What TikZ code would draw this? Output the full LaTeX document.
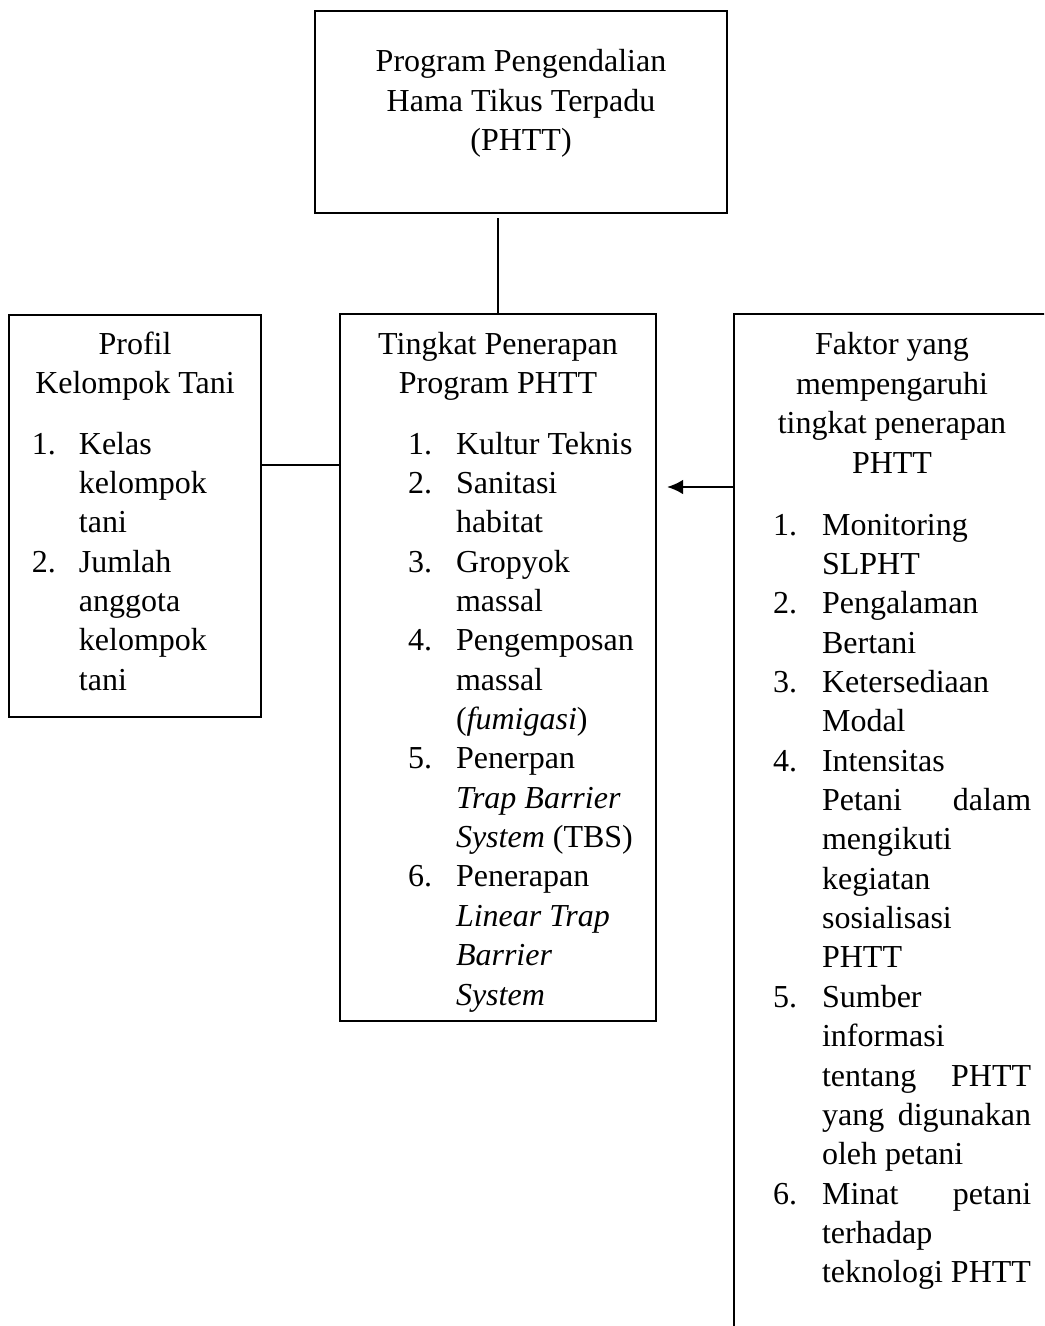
\documentclass[tikz,border=0pt]{standalone}
\usepackage{fontspec}
\setmainfont{Liberation Serif}
\usepackage{tikz}
\usetikzlibrary{arrows.meta}

\begin{document}
\begin{tikzpicture}[x=0.375pt,y=-0.375pt,
  every node/.style={inner sep=0pt,outer sep=0pt,font=\fontsize{12}{14.76}\selectfont},
  box/.style={draw,line width=0.8pt,anchor=north west},
  link/.style={line width=0.4pt}]

% Page frame
\path[use as bounding box] (0,0) rectangle (1044,1326);
\clip (0,0) rectangle (1044,1326);

% Boxes
\node[box,minimum width=412*0.375pt,minimum height=202*0.375pt] (top) at (315,11) {};
\node[box,minimum width=252*0.375pt,minimum height=402*0.375pt] (left) at (9,315) {};
\node[box,minimum width=316*0.375pt,minimum height=707*0.375pt] (mid) at (340,314) {};
\node[box,minimum width=316*0.375pt,minimum height=1100*0.375pt] (right) at (734,314) {};

% Titles
\node[anchor=base] (toptext) at (521,72) {\begin{tabular}[t]{@{}c@{}}Program Pengendalian\\Hama Tikus Terpadu\\(PHTT)\end{tabular}};
\node[anchor=base] (lefttitle) at (135,354) {\begin{tabular}[t]{@{}c@{}}Profil\\Kelompok Tani\end{tabular}};
\node[anchor=base] (midtitle) at (498,354) {\begin{tabular}[t]{@{}c@{}}Tingkat Penerapan\\Program PHTT\end{tabular}};
\node[anchor=base] (righttitle) at (892,355) {\begin{tabular}[t]{@{}c@{}}Faktor yang\\mempengaruhi\\tingkat penerapan\\PHTT\end{tabular}};

% Lists
\node[anchor=base west] (leftlist) at (32,454) {\begin{tabular}[t]{@{}p{17.6pt}@{}p{60pt}@{}}
1. & Kelas\\
   & kelompok\\
   & tani\\
2. & Jumlah\\
   & anggota\\
   & kelompok\\
   & tani
\end{tabular}};

\node[anchor=base west] (midlist) at (408,454) {\begin{tabular}[t]{@{}p{18pt}@{}p{70pt}@{}}
1. & Kultur Teknis\\
2. & Sanitasi\\
   & habitat\\
3. & Gropyok\\
   & massal\\
4. & Pengemposan\\
   & massal\\
   & (\textit{fumigasi})\\
5. & Penerpan\\
   & \textit{Trap Barrier}\\
   & \textit{System} (TBS)\\
6. & Penerapan\\
   & \textit{Linear Trap}\\
   & \textit{Barrier}\\
   & \textit{System}
\end{tabular}};

\node[anchor=base west] (rightlist) at (773,535) {\begin{tabular}[t]{@{}p{18.4pt}@{}p{78.4pt}@{}}
1. & Monitoring\\
   & SLPHT\\
2. & Pengalaman\\
   & Bertani\\
3. & Ketersediaan\\
   & Modal\\
4. & Intensitas\\
   & \makebox[\linewidth][s]{Petani dalam}\\
   & mengikuti\\
   & kegiatan\\
   & sosialisasi\\
   & PHTT\\
5. & Sumber\\
   & informasi\\
   & \makebox[\linewidth][s]{tentang PHTT}\\
   & \makebox[\linewidth][s]{yang digunakan}\\
   & oleh petani\\
6. & \makebox[\linewidth][s]{Minat petani}\\
   & terhadap\\
   & teknologi PHTT
\end{tabular}};

% Connectors
\coordinate (lk) at (0,465);
\coordinate (tip) at (667,487);
\draw[link] (left.east |- lk) -- (mid.west |- lk);
\draw[link,shorten >=1.9pt] (mid.north) -- (mid.north |- top.south);
\draw[line width=0.9pt,-{Latex[length=6pt,width=5.5pt]}] (right.west |- tip) -- (tip);

\end{tikzpicture}
\end{document}
